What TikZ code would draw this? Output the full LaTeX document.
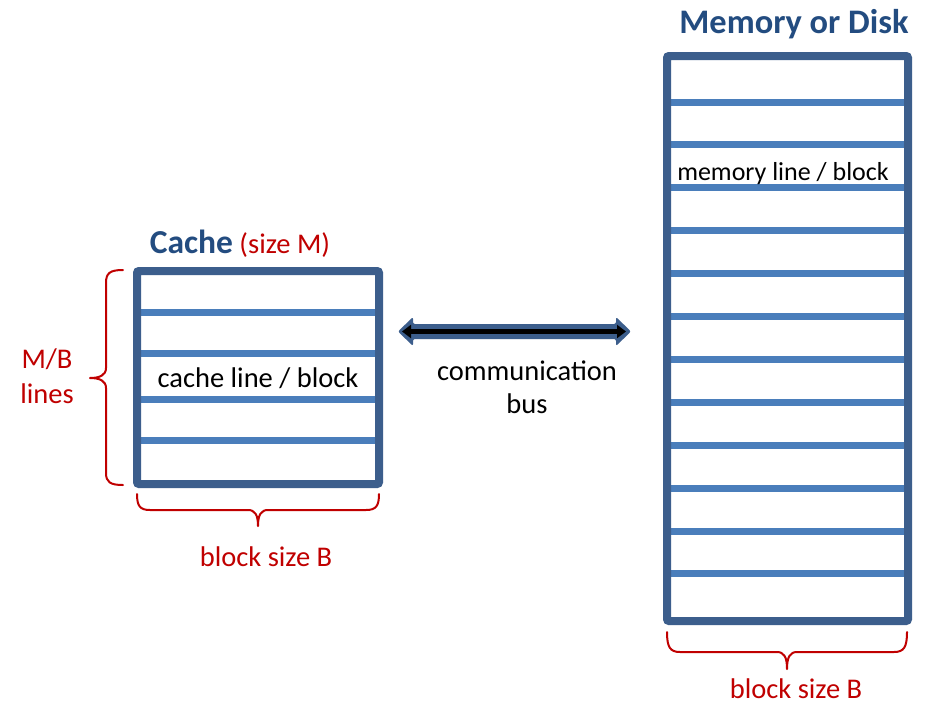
\documentclass[tikz,border=0pt]{standalone}
\usepackage{fontspec}
\setmainfont{Carlito}
\usetikzlibrary{arrows.meta}
\definecolor{boxblue}{RGB}{60,94,140}
\definecolor{rowblue}{RGB}{74,126,187}
\definecolor{titleblue}{RGB}{35,76,128}
\definecolor{labelred}{RGB}{192,0,0}
\tikzset{
  boxframe/.style={draw=boxblue, line width=8pt, rounded corners=2pt},
  rowline/.style={draw=rowblue, line width=7pt},
  bracestyle/.style={draw=labelred, line width=2pt, line cap=round, line join=round},
  txt/.style={inner sep=0pt, anchor=base, font=\fontsize{28.5}{32}\selectfont},
  redtxt/.style={txt, text=labelred},
}
\begin{document}
\begin{tikzpicture}[x=1pt,y=-1pt]
\useasboundingbox (0,0) rectangle (926,705);
\fill[white] (0,0) rectangle (926,705);

% ---------- cache ----------
\coordinate (cTL) at (137,271);
\coordinate (cBR) at (379,484);
\foreach \yy in {312,353,399,440} {
  \draw[rowline] (137,\yy) -- (379,\yy);
}
\draw[boxframe] (cTL) rectangle (cBR);

\node[txt] (cachetitle) at (240,253)
  {{\color{titleblue}\bfseries\fontsize{33.5}{38}\selectfont Cache} {\color{labelred}(size M)}};
\node[txt] (cacheline) at (258,387) {cache line / block};

% left brace
\coordinate (lbA) at (123,270);
\coordinate (lbB) at (123,485);
\coordinate (lbTip) at (90,378);
\draw[bracestyle] (lbA) .. controls (110,270) and (106,273) .. (106,283)
  -- (106,368) .. controls (106,375) and (100,378) .. (lbTip)
  .. controls (100,378) and (106,381) .. (106,388)
  -- (106,473) .. controls (106,482) and (110,485) .. (lbB);
\node[redtxt] (mb) at (47,368) {M/B};
\node[redtxt] (lines) at (47,403) {lines};

% cache bottom brace
\coordinate (cbA) at (137,494);
\coordinate (cbB) at (379,494);
\coordinate (cbTip) at (258,526);
\draw[bracestyle] (cbA) .. controls (137,506) and (140,510) .. (150,510)
  -- (248,510) .. controls (255,510) and (258,515) .. (cbTip)
  .. controls (258,515) and (261,510) .. (268,510)
  -- (366,510) .. controls (376,510) and (379,506) .. (cbB);
\node[redtxt] (cbs) at (266,566) {block size B};

% ---------- memory ----------
\coordinate (mTL) at (667,56);
\coordinate (mBR) at (908,621);
\foreach \k in {0,...,11} {
  \draw[rowline] (667,102+42.9*\k) -- (908,102+42.9*\k);
}
\draw[boxframe] (mTL) rectangle (mBR);
\node[txt, font=\bfseries\fontsize{34.4}{39}\selectfont, text=titleblue] (memtitle) at (794,33) {Memory or Disk};
\node[txt, font=\fontsize{26}{30}\selectfont] (memline) at (783,180) {memory line / block};

% memory bottom brace
\coordinate (mbA) at (667,632);
\coordinate (mbB) at (907,632);
\coordinate (mbTip) at (787,669);
\draw[bracestyle] (mbA) .. controls (667,647) and (670,652) .. (680,652)
  -- (777,652) .. controls (784,652) and (787,657) .. (mbTip)
  .. controls (787,657) and (790,652) .. (797,652)
  -- (894,652) .. controls (904,652) and (907,647) .. (mbB);
\node[redtxt] (mbs) at (796,698.5) {block size B};

% ---------- communication bus ----------
\coordinate (busL) at (398,331.5);
\coordinate (busR) at (631,331.5);
\fill[boxblue, rounded corners=2pt] (busL) -- (413,317) -- (413,324) -- (616,324) -- (616,317)
  -- (busR) -- (616,346) -- (616,339) -- (413,339) -- (413,346) -- cycle;
\draw[black, line width=5pt, {Triangle[length=9pt,width=13pt]}-{Triangle[length=9pt,width=13pt]}]
  (402,331.5) -- (626,331.5);
\node[txt] (comm) at (527,380) {communication};
\node[txt] (bus) at (527,413) {bus};
\end{tikzpicture}
\end{document}
